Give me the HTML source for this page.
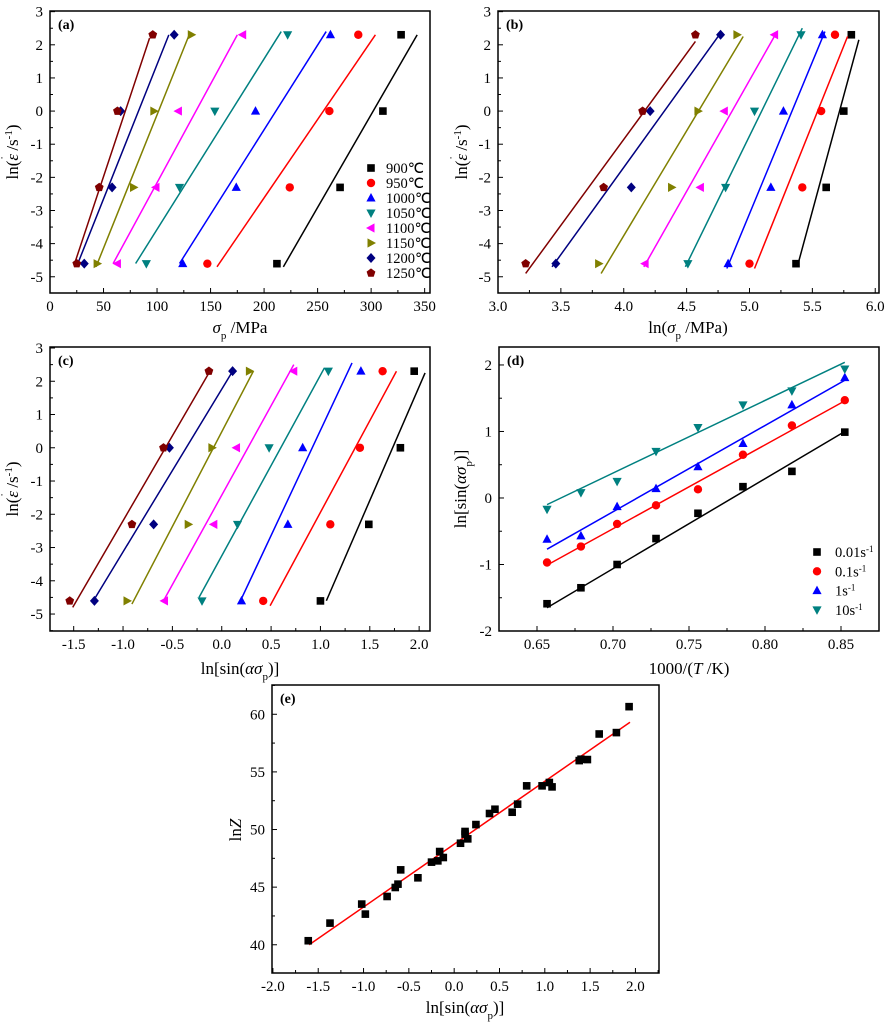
<!DOCTYPE html>
<html><head><meta charset="utf-8"><style>
html,body{margin:0;padding:0;background:#fff;}
svg{display:block;font-family:"Liberation Serif",serif;}
</style></head><body>
<svg id="fig" width="891" height="1024" viewBox="0 0 891 1024" xmlns="http://www.w3.org/2000/svg">
<rect x="0" y="0" width="891" height="1024" fill="#fff"/>
</svg>
<script>
// ---- data ----
const temps = ['900℃','950℃','1000℃','1050℃','1100℃','1150℃','1200℃','1250℃'];
const rateY = [2.303, 0, -2.303, -4.605];
const aX = [[328,311,271,212],[288,261,224,147],[262,192,174,124],[222,154,121,90],[180,120,99,63],[132,97,78,44],[116,66,58,32],[96,63,46,25]];
const aFit = [[218,-4.7,343,2.3],[156,-4.7,304,2.3],[121,-4.6,258,2.4],[80,-4.6,216,2.4],[59,-4.6,175,2.3],[43,-4.7,130,2.3],[26,-4.6,111,2.3],[23,-4.6,93,2.2]];
const bX = [[5.81,5.75,5.61,5.37],[5.68,5.57,5.42,5.0],[5.58,5.27,5.17,4.83],[5.41,5.04,4.81,4.51],[5.20,4.80,4.61,4.17],[4.90,4.59,4.38,3.80],[4.77,4.21,4.06,3.46],[4.57,4.15,3.84,3.22]];
const bFit = [[5.38,-4.7,5.87,2.15],[5.04,-4.75,5.78,2.25],[4.82,-4.75,5.60,2.4],[4.49,-4.7,5.42,2.5],[4.16,-4.7,5.22,2.4],[3.82,-4.9,4.95,2.25],[3.43,-4.7,4.76,2.3],[3.22,-4.9,4.57,2.1]];
const cX = [[1.95,1.81,1.49,1.00],[1.63,1.40,1.10,0.42],[1.41,0.82,0.67,0.20],[1.08,0.48,0.16,-0.20],[0.73,0.15,-0.08,-0.58],[0.28,-0.10,-0.34,-0.96],[0.11,-0.53,-0.69,-1.29],[-0.13,-0.59,-0.91,-1.54]];
const cFit = [[1.06,-4.6,2.06,2.25],[0.49,-4.75,1.77,2.3],[0.19,-4.6,1.32,2.55],[-0.23,-4.5,1.04,2.4],[-0.59,-4.6,0.73,2.5],[-0.91,-4.7,0.32,2.3],[-1.30,-4.6,0.11,2.3],[-1.51,-4.8,-0.12,2.3]];
const invT = [0.6566,0.6789,0.7027,0.7283,0.7559,0.7855,0.8177,0.8525];
const rates = ['0.01s','0.1s','1s','10s'];
const dY = [[-1.59,-1.35,-1.00,-0.61,-0.23,0.17,0.40,0.99],[-0.97,-0.73,-0.39,-0.11,0.13,0.65,1.09,1.47],[-0.62,-0.57,-0.13,0.14,0.47,0.82,1.40,1.81],[-0.17,0.08,0.25,0.70,1.06,1.40,1.61,1.94]];
const dFit = [[0.6566,-1.65,0.8525,1.0],[0.6566,-1.01,0.8525,1.46],[0.6566,-0.77,0.8525,1.77],[0.6566,-0.10,0.8525,2.04]];
const eX = [-1.61,-1.37,-1.02,-0.98,-0.74,-0.65,-0.62,-0.59,-0.40,-0.25,-0.18,-0.16,-0.12,0.07,0.12,0.12,0.15,0.24,0.39,0.45,0.64,0.70,0.80,0.97,1.05,1.08,1.38,1.40,1.47,1.60,1.79,1.93];
const eY = [40.35,41.88,43.53,42.66,44.19,44.97,45.26,46.50,45.81,47.17,47.28,48.09,47.57,48.81,49.83,49.60,49.19,50.43,51.39,51.76,51.50,52.20,53.79,53.79,54.08,53.70,55.98,56.10,56.07,58.29,58.41,60.66];
const eFit = [-1.60,40.0,1.94,59.31];
const aTicksX = [0,50,100,150,200,250,300,350];
const bTicksX = [3.0,3.5,4.0,4.5,5.0,5.5,6.0];
const cTicksX = [-1.5,-1.0,-0.5,0.0,0.5,1.0,1.5,2.0];
const dTicksX = [0.65,0.70,0.75,0.80,0.85];
const dTicksY = [-2,-1,0,1,2];
const eTicksX = [-2.0,-1.5,-1.0,-0.5,0.0,0.5,1.0,1.5,2.0];
const eTicksY = [40,45,50,55,60];
const rateTicksY = [-5,-4,-3,-2,-1,0,1,2,3];

const colors = ['#000000','#ff0000','#0000ff','#008080','#ff00ff','#808000','#000080','#800000'];
const shapes = ['square','circle','up','down','left','right','diamond','pentagon'];
const NS = 'http://www.w3.org/2000/svg';
const svg = document.getElementById('fig');

function mk(tag, attrs, parent){
  const e = document.createElementNS(NS, tag);
  for (const k in attrs) e.setAttribute(k, attrs[k]);
  (parent||svg).appendChild(e);
  return e;
}
function marker(g, shape, cx, cy, color, name){
  let el; const r = 4.2;
  if (shape==='square') el = mk('rect',{x:cx-3.8,y:cy-3.8,width:7.6,height:7.6,fill:color},g);
  else if (shape==='circle') el = mk('circle',{cx:cx,cy:cy,r:4.2,fill:color},g);
  else {
    let pts;
    if (shape==='up') pts=[[0,-5],[4.6,3.5],[-4.6,3.5]];
    else if (shape==='down') pts=[[0,5],[4.6,-3.5],[-4.6,-3.5]];
    else if (shape==='left') pts=[[-5,0],[3.5,-4.6],[3.5,4.6]];
    else if (shape==='right') pts=[[5,0],[-3.5,-4.6],[-3.5,4.6]];
    else if (shape==='diamond') pts=[[0,-5],[4.5,0],[0,5],[-4.5,0]];
    else { pts=[]; for(let i=0;i<5;i++){const a=-Math.PI/2+i*2*Math.PI/5; pts.push([r*1.1*Math.cos(a),r*1.1*Math.sin(a)]);} }
    el = mk('polygon',{points:pts.map(p=>(cx+p[0])+','+(cy+p[1])).join(' '),fill:color},g);
  }
  
  
  return el;
}

function panel(cfg){
  const g = mk('g',{});
  
  
  const L=cfg.box[0],T=cfg.box[1],R=cfg.box[2],B=cfg.box[3];
  const sx = v => L + (v-cfg.xr[0])/(cfg.xr[1]-cfg.xr[0])*(R-L);
  const sy = v => B - (v-cfg.yr[0])/(cfg.yr[1]-cfg.yr[0])*(B-T);
  const frame = mk('rect',{x:L,y:T,width:R-L,height:B-T,fill:'none',stroke:'#000','stroke-width':1.5},g);
  
  
  const xt = cfg.xticks;
  const xstep = (xt[1]-xt[0])/2;
  for (let v=xt[0]-xstep; v<=cfg.xr[1]+1e-9; v+=xstep){
    if (v < cfg.xr[0]-1e-9) continue;
    const major = xt.some(t=>Math.abs(t-v)<1e-6);
    mk('line',{x1:sx(v),x2:sx(v),y1:B,y2:B-(major?5:3),stroke:'#000','stroke-width':1},g);
  }
  xt.forEach(v=>{
    const t = mk('text',{x:sx(v),y:B+18,'font-size':15,'text-anchor':'middle',fill:'#000'},g);
    t.textContent = cfg.xfmt(v);
    
    
  });
  const yt = cfg.yticks;
  const ystep = (yt[1]-yt[0])/2;
  for (let v=yt[0]-ystep; v<=cfg.yr[1]+1e-9; v+=ystep){
    if (v < cfg.yr[0]-1e-9) continue;
    const major = yt.some(t=>Math.abs(t-v)<1e-6);
    mk('line',{x1:L,x2:L+(major?5:3),y1:sy(v),y2:sy(v),stroke:'#000','stroke-width':1},g);
  }
  yt.forEach(v=>{
    const t = mk('text',{x:L-7,y:sy(v)+5,'font-size':15,'text-anchor':'end',fill:'#000'},g);
    t.textContent = cfg.yfmt(v);
    
    
  });
  const lab = mk('text',{x:L+8,y:T+18,'font-size':14,'font-weight':'bold',fill:'#000'},g);
  lab.textContent = cfg.label;
  
  
  return {g,sx,sy,L,T,R,B};
}
function fitLine(p, f, color, name){
  const l = mk('line',{x1:p.sx(f[0]),y1:p.sy(f[1]),x2:p.sx(f[2]),y2:p.sy(f[3]),stroke:color,'stroke-width':1.5},p.g);
  
  
}
function richText(x,y,html,opts){
  const t = mk('text',Object.assign({x:x,y:y,'font-size':17,'text-anchor':'middle',fill:'#000'},opts||{}));
  t.innerHTML = html;
  return t;
}
const f0 = v=>String(v);
const f1 = v=>v.toFixed(1);
const f2 = v=>v.toFixed(2);
const rateLabelHTML = 'ln(<tspan font-style="italic">ε</tspan><tspan dx="-6" dy="-9" font-size="12">˙</tspan><tspan dx="1" dy="9"> /s</tspan><tspan baseline-shift="super" font-size="11">-1</tspan>)';
const sinHTML = 'ln[sin(<tspan font-style="italic">ασ</tspan><tspan baseline-shift="sub" font-size="11">p</tspan>)]';

// panel a
const pa = panel({name:'panel-a',label:'(a)',box:[50,11,430,293],xr:[0,355],yr:[-5.49,3.02],xticks:aTicksX,yticks:rateTicksY,xfmt:f0,yfmt:f0});
temps.forEach((tn,i)=>{
  fitLine(pa, aFit[i], colors[i], 'fit-line-a-'+i);
  aX[i].forEach((v,j)=>marker(pa.g, shapes[i], pa.sx(v), pa.sy(rateY[j]), colors[i], 'point-a-'+i+'-'+j));
});
const lg = mk('g',{});


temps.forEach((tn,i)=>{
  const y = 168 + i*15;
  marker(lg, shapes[i], 371, y, colors[i], 'legend-marker-'+i);
  const t = mk('text',{x:386,y:y+5,'font-size':14.5,fill:'#000'},lg);
  t.textContent = tn;
  
  
});
let t;
t = richText(240,333,'<tspan font-style="italic">σ</tspan><tspan baseline-shift="sub" font-size="11">p</tspan> /MPa');
 
t = richText(0,0,rateLabelHTML,{transform:'translate(18,152) rotate(-90)'});
 

// panel b
const pb = panel({name:'panel-b',label:'(b)',box:[498,11,879,293],xr:[3.0,6.03],yr:[-5.49,3.02],xticks:bTicksX,yticks:rateTicksY,xfmt:f1,yfmt:f0});
temps.forEach((tn,i)=>{
  fitLine(pb, bFit[i], colors[i], 'fit-line-b-'+i);
  bX[i].forEach((v,j)=>marker(pb.g, shapes[i], pb.sx(v), pb.sy(rateY[j]), colors[i], 'point-b-'+i+'-'+j));
});
t = richText(688,333,'ln(<tspan font-style="italic">σ</tspan><tspan baseline-shift="sub" font-size="11">p</tspan> /MPa)');
 
t = richText(0,0,rateLabelHTML,{transform:'translate(467,152) rotate(-90)'});
 

// panel c
const pc = panel({name:'panel-c',label:'(c)',box:[50,347,430,631],xr:[-1.74,2.11],yr:[-5.51,3.03],xticks:cTicksX,yticks:rateTicksY,xfmt:f1,yfmt:f0});
temps.forEach((tn,i)=>{
  fitLine(pc, cFit[i], colors[i], 'fit-line-c-'+i);
  cX[i].forEach((v,j)=>marker(pc.g, shapes[i], pc.sx(v), pc.sy(rateY[j]), colors[i], 'point-c-'+i+'-'+j));
});
t = richText(240,674,sinHTML);
 
t = richText(0,0,rateLabelHTML,{transform:'translate(18,489) rotate(-90)'});
 

// panel d
const pd = panel({name:'panel-d',label:'(d)',box:[499,347,879,631],xr:[0.625,0.875],yr:[-2,2.27],xticks:dTicksX,yticks:dTicksY,xfmt:f2,yfmt:f0});
const dColors = ['#000000','#ff0000','#0000ff','#008080'];
const dShapes = ['square','circle','up','down'];
rates.forEach((rn,i)=>{
  fitLine(pd, dFit[i], dColors[i], 'fit-line-d-'+i);
  dY[i].forEach((v,j)=>marker(pd.g, dShapes[i], pd.sx(invT[j]), pd.sy(v), dColors[i], 'point-d-'+i+'-'+j));
});
const lgd = mk('g',{});


rates.forEach((rn,i)=>{
  const y = 552 + i*19.3;
  marker(lgd, dShapes[i], 817, y, dColors[i], 'legend-marker-d-'+i);
  const tt = mk('text',{x:835,y:y+5,'font-size':14.5,fill:'#000'},lgd);
  tt.innerHTML = rn + '<tspan baseline-shift="super" font-size="9">-1</tspan>';
  
  
});
t = richText(689,674,'1000/(<tspan font-style="italic">T</tspan> /K)');
 
t = richText(0,0,sinHTML,{transform:'translate(466,489) rotate(-90)'});
 

// panel e
const pe = panel({name:'panel-e',label:'(e)',box:[272,685,659,973],xr:[-2.01,2.26],yr:[37.55,62.54],xticks:eTicksX,yticks:eTicksY,xfmt:f1,yfmt:f0});
fitLine(pe, eFit, '#ff0000', 'fit-line-e');
eX.forEach((v,j)=>marker(pe.g, 'square', pe.sx(v), pe.sy(eY[j]), '#000', 'point-e-'+j));
t = richText(465,1013,sinHTML);
 
t = richText(0,0,'ln<tspan font-style="italic">Z</tspan>',{transform:'translate(241,830) rotate(-90)'});
 
</script>
</body></html>
